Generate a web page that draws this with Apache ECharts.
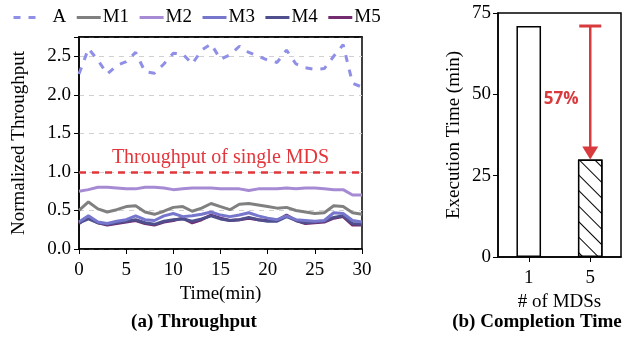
<!DOCTYPE html>
<html><head><meta charset="utf-8">
<script src="https://cdn.jsdelivr.net/npm/echarts@6/dist/echarts.min.js"></script>
<style>html,body{margin:0;padding:0;background:#fff}#c{width:628px;height:337px}</style>
</head><body><div id="c"></div>
<script>
const times = [0,1,2,3,4,5,6,7,8,9,10,11,12,13,14,15,16,17,18,19,20,21,22,23,24,25,26,27,28,29,30];
const seriesA  = [2.27,2.6,2.45,2.27,2.38,2.43,2.55,2.3,2.28,2.4,2.54,2.53,2.4,2.58,2.66,2.46,2.52,2.63,2.55,2.5,2.45,2.42,2.58,2.4,2.35,2.33,2.34,2.5,2.65,2.15,2.1];
const seriesM1 = [0.5,0.61,0.52,0.48,0.51,0.55,0.56,0.48,0.45,0.49,0.54,0.55,0.49,0.53,0.59,0.55,0.51,0.58,0.59,0.57,0.55,0.53,0.54,0.5,0.48,0.46,0.47,0.56,0.55,0.47,0.45];
const seriesM2 = [0.75,0.77,0.8,0.8,0.79,0.78,0.78,0.8,0.8,0.79,0.77,0.78,0.79,0.79,0.79,0.78,0.78,0.78,0.76,0.78,0.78,0.78,0.79,0.78,0.79,0.79,0.78,0.77,0.77,0.7,0.7];
const seriesM3 = [0.35,0.43,0.35,0.33,0.36,0.38,0.43,0.38,0.37,0.43,0.46,0.42,0.43,0.45,0.48,0.44,0.42,0.44,0.47,0.43,0.4,0.38,0.43,0.38,0.37,0.36,0.37,0.47,0.46,0.37,0.35];
const seriesM4 = [0.34,0.39,0.34,0.32,0.34,0.36,0.38,0.34,0.32,0.36,0.38,0.39,0.36,0.39,0.43,0.39,0.37,0.38,0.41,0.38,0.36,0.36,0.42,0.37,0.34,0.35,0.36,0.41,0.43,0.33,0.32];
const seriesM5 = [0.33,0.42,0.34,0.31,0.33,0.35,0.37,0.33,0.31,0.35,0.37,0.4,0.34,0.38,0.44,0.4,0.37,0.38,0.4,0.38,0.37,0.37,0.44,0.37,0.33,0.34,0.35,0.4,0.42,0.31,0.31];
const singleMDS = 1.0;
const mdsCategories = ['1', '5'];
const execTimes = [71, 30];
const reductionLabel = '57%';

const FONT = "'Liberation Serif', 'DejaVu Serif', serif";
const pairs = arr => times.map((t, i) => [t, arr[i]]);

const lineDefs = [
  {name:'A',  data:seriesA,  color:'#8f8fe8', type:[7,8]},
  {name:'M1', data:seriesM1, color:'#808080', type:'solid'},
  {name:'M2', data:seriesM2, color:'#a68bd4', type:'solid'},
  {name:'M3', data:seriesM3, color:'#7676cc', type:'solid'},
  {name:'M4', data:seriesM4, color:'#4f4f8e', type:'solid'},
  {name:'M5', data:seriesM5, color:'#742c70', type:'solid'}
];

const chart = echarts.init(document.getElementById('c'), null, {renderer:'canvas'});

const lineSeries = lineDefs.map((d, i) => {
  const s = {
    name: d.name, type:'line', xAxisIndex:0, yAxisIndex:0,
    data: pairs(d.data), showSymbol:false, symbol:'none',
    lineStyle:{color:d.color, width:3, type:d.type},
    itemStyle:{color:d.color}, z: 10 - i, animation:false
  };
  if (i === 0) {
    s.markLine = {
      silent:true, symbol:['none','none'],
      lineStyle:{color:'#e3363c', width:2.5, type:[7,6]},
      label:{show:true, position:'insideMiddleTop', formatter:'Throughput of single MDS',
             color:'#e3363c', fontFamily:FONT, fontSize:20, distance:4},
      data:[{yAxis: singleMDS}]
    };
  }
  return s;
});

const axisBase = {
  axisLine:{show:true, lineStyle:{color:'#000', width:1.5}},
  nameTextStyle:{fontFamily:FONT, fontSize:19, color:'#000'}
};

chart.setOption({
  animation:false,
  backgroundColor:'#fff',
  textStyle:{fontFamily:FONT},
  legend:{
    left:7, top:3, itemWidth:24, itemHeight:12, itemGap:9,
    itemStyle:{opacity:0, borderWidth:0},
    lineStyle:{width:3},
    textStyle:{fontFamily:FONT, fontSize:19, color:'#000', padding:[0,0,0,-3]},
    data: lineDefs.map((d, i) => i === 0
      ? {name:d.name, textStyle:{padding:[0,0,0,10]}}
      : {name:d.name})
  },
  grid:[
    {left:79, top:37, width:283, height:212, show:true, borderColor:'#000', borderWidth:1.5, backgroundColor:'transparent'},
    {left:498, top:13, width:123, height:244, show:true, borderColor:'#000', borderWidth:1.5, backgroundColor:'transparent'}
  ],
  xAxis:[
    Object.assign({gridIndex:0, type:'value', min:0, max:30, interval:5,
     name:'Time(min)', nameLocation:'middle', nameGap:35,
     axisTick:{show:true, length:5, lineStyle:{color:'#000'}},
     axisLabel:{fontFamily:FONT, fontSize:19, color:'#000', margin:12},
     splitLine:{show:false}}, axisBase),
    Object.assign({gridIndex:1, type:'category', data:mdsCategories,
     name:'# of MDSs', nameLocation:'middle', nameGap:31,
     axisTick:{show:true, alignWithLabel:true, length:5, lineStyle:{color:'#000'}},
     axisLabel:{fontFamily:FONT, fontSize:19, color:'#000', margin:12},
     splitLine:{show:false}}, axisBase),
    {gridIndex:0, type:'value', position:'top', min:0, max:30,
     axisLine:{show:true, lineStyle:{color:'#000', width:1.5}},
     axisTick:{show:false}, axisLabel:{show:false}, splitLine:{show:false}}
  ],
  yAxis:[
    Object.assign({gridIndex:0, type:'value', min:0, max:2.75, interval:0.5,
     name:'Normalized Throughput', nameLocation:'middle', nameGap:50,
     axisTick:{show:true, length:5, lineStyle:{color:'#000'}},
     axisLabel:{fontFamily:FONT, fontSize:19, color:'#000', margin:8,
       formatter: v => (v <= 2.5 + 1e-9 && Math.abs(v*2 - Math.round(v*2)) < 1e-9) ? v.toFixed(1) : ''},
     splitLine:{show:true, lineStyle:{color:'#d0d0d0', type:[5,5], width:1}}}, axisBase),
    Object.assign({gridIndex:1, type:'value', min:0, max:75, interval:25,
     name:'Execution Time (min)', nameLocation:'middle', nameGap:34,
     axisTick:{show:true, length:5, lineStyle:{color:'#000'}},
     axisLabel:{fontFamily:FONT, fontSize:19, color:'#000', margin:7},
     splitLine:{show:false}}, axisBase)
  ],
  series: lineSeries.concat([
    {type:'bar', xAxisIndex:1, yAxisIndex:1, barWidth:'40%',
     data: execTimes.map((v, i) => ({
       value:v,
       itemStyle: i === 0
         ? {color:'#fff', borderColor:'#000', borderWidth:1.5}
         : {color:'#fff', borderColor:'#000', borderWidth:1.5,
            decal:{symbol:'rect', symbolSize:1, color:'#000', backgroundColor:'#fff',
                   dashArrayX:[1,0], dashArrayY:[1,10], rotation:Math.PI/4}}
     })), z:2},
    {type:'custom', xAxisIndex:1, yAxisIndex:1, z:5, silent:true,
     data:[[1, execTimes[0], execTimes[1]]],
     renderItem:(params, api) => {
       const top = api.coord([api.value(0), api.value(1)]);
       const bot = api.coord([api.value(0), api.value(2)]);
       const mid = api.coord([api.value(0), (api.value(1)+api.value(2))/2]);
       const red = '#d93a3e';
       const head = 13, hw = 8;
       return {type:'group', children:[
         {type:'line', shape:{x1:top[0]-11, y1:top[1], x2:top[0]+11, y2:top[1]}, style:{stroke:red, lineWidth:3}},
         {type:'line', shape:{x1:top[0], y1:top[1], x2:bot[0], y2:bot[1]-head+1}, style:{stroke:red, lineWidth:2.5}},
         {type:'polygon', shape:{points:[[bot[0]-hw, bot[1]-head],[bot[0]+hw, bot[1]-head],[bot[0], bot[1]]]}, style:{fill:red}},
         {type:'text', x:mid[0]-29, y:mid[1]+6, style:{text:reductionLabel, fill:red, font:"bold 17px 'Open Sans', 'Noto Sans', sans-serif", align:'center', verticalAlign:'middle'}}
       ]};
     }}
  ]),
  graphic:[
    {type:'text', x:194, y:322, style:{text:'(a) Throughput', fill:'#000', font:"bold 19px 'Liberation Serif', serif", align:'center', verticalAlign:'middle'}},
    {type:'text', x:537, y:322, style:{text:'(b) Completion Time', fill:'#000', font:"bold 19px 'Liberation Serif', serif", align:'center', verticalAlign:'middle'}}
  ]
});
</script>
</body></html>
